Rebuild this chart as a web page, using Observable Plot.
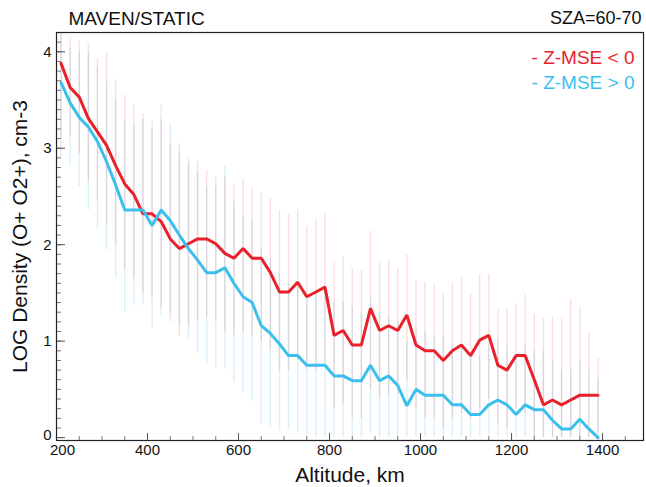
<!DOCTYPE html>
<html>
<head>
<meta charset="utf-8">
<script src="https://cdn.jsdelivr.net/npm/d3@7"></script>
<script src="https://cdn.jsdelivr.net/npm/@observablehq/plot@0.6"></script>
<style>
  html, body { margin: 0; padding: 0; background: #fff; }
  #chart { width: 646px; height: 487px; }
</style>
</head>
<body>
<div id="chart"></div>
<script>
// Altitude bins (km)
const altitude = [210,230,250,270,290,310,330,350,370,390,410,430,450,470,490,510,530,550,570,590,
  610,630,650,670,690,710,730,750,770,790,810,830,850,870,890,910,930,950,970,990,
  1010,1030,1050,1070,1090,1110,1130,1150,1170,1190,1210,1230,1250,1270,1290,1310,1330,1350,1370,1390];

// Z-MSE < 0 (red): mean log density and spread
const redMean = [3.88,3.63,3.53,3.31,3.17,3.03,2.82,2.63,2.52,2.32,2.32,2.24,2.06,1.96,2.01,2.06,2.06,2.01,1.91,1.86,
  1.96,1.86,1.86,1.71,1.51,1.51,1.61,1.46,1.51,1.56,1.06,1.11,0.96,0.96,1.34,1.11,1.16,1.11,1.27,0.96,
  0.90,0.90,0.80,0.90,0.96,0.85,1.01,1.06,0.75,0.70,0.85,0.85,0.60,0.34,0.39,0.34,0.39,0.44,0.44,0.44];
const redHi = [4.60,4.14,4.12,4.00,3.93,4.00,3.71,3.55,3.45,3.36,3.20,3.30,3.05,3.05,2.89,2.86,2.77,2.70,2.70,2.63,
  2.68,2.58,2.54,2.48,2.36,2.32,2.36,2.19,2.26,2.32,1.82,1.87,1.75,1.73,2.14,1.82,1.84,1.75,1.89,1.63,
  1.61,1.59,1.50,1.60,1.65,1.49,1.69,1.69,1.33,1.33,1.39,1.48,1.28,1.24,1.25,1.25,1.44,1.35,1.09,0.82];
const redLo = [3.10,3.12,2.94,2.65,2.45,2.20,2.00,1.75,1.65,1.50,1.45,1.35,1.20,1.05,1.15,1.20,1.25,1.20,1.10,1.05,
  1.10,1.05,1.00,0.90,0.70,0.70,0.80,0.70,0.70,0.75,0.30,0.35,0.20,0.20,0.50,0.40,0.45,0.45,0.60,0.30,
  0.20,0.20,0.10,0.20,0.25,0.20,0.30,0.40,0.15,0.10,0.30,0.25,0.00,0.00,0.00,0.00,0.00,0.00,0.00,0.05];

// Z-MSE > 0 (blue)
const blueMean = [3.68,3.47,3.32,3.22,3.07,2.86,2.62,2.36,2.36,2.36,2.20,2.36,2.25,2.10,1.96,1.84,1.71,1.71,1.76,1.60,
  1.46,1.40,1.16,1.08,0.97,0.85,0.85,0.75,0.75,0.75,0.64,0.64,0.59,0.59,0.75,0.59,0.64,0.54,0.33,0.50,
  0.44,0.44,0.44,0.34,0.34,0.24,0.24,0.34,0.39,0.34,0.24,0.34,0.29,0.29,0.18,0.09,0.09,0.19,0.09,0.00];
const blueHi = [4.30,4.05,4.00,4.09,3.85,3.70,3.50,3.30,3.25,3.30,3.29,3.45,3.26,2.95,2.85,2.75,2.60,2.60,2.81,2.45,
  2.30,2.25,1.95,1.85,1.70,1.60,1.60,1.50,1.50,1.50,1.40,1.40,1.35,1.30,1.45,1.30,1.24,1.20,1.00,1.15,
  1.10,1.05,1.05,0.95,0.95,0.85,0.85,0.95,1.00,0.95,0.85,0.95,0.90,0.90,0.80,0.70,0.70,0.80,0.70,0.60];
const blueLo = [2.90,2.82,2.60,2.36,2.15,1.94,1.65,1.30,1.37,1.37,1.13,1.27,1.28,1.16,1.01,0.87,0.76,0.71,0.71,0.57,
  0.47,0.38,0.14,0.10,0.07,0.08,0.05,0.00,0.00,0.00,0.00,0.00,0.00,0.00,0.05,0.00,0.00,0.00,0.00,0.00,
  0.00,0.00,0.00,0.00,0.00,0.00,0.00,0.00,0.00,0.00,0.00,0.00,0.00,0.00,0.00,0.00,0.00,0.00,0.00,0.00];

const xTicks = [200,400,600,800,1000,1200,1400];
const yTicks = [0,1,2,3,4];
const seriesNames = ["- Z-MSE < 0", "- Z-MSE > 0"];
const titleLeft = "MAVEN/STATIC";
const titleRight = "SZA=60-70";
const xLabel = "Altitude, km";
const yLabel = "LOG Density (O+ O2+), cm-3";

const RED = "#e8212b";
const BLUE = "#3bbfec";

const red = altitude.map((a, i) => ({alt: a, v: redMean[i], lo: redLo[i], hi: redHi[i]}));
const blue = altitude.map((a, i) => ({alt: a, v: blueMean[i], lo: blueLo[i], hi: blueHi[i]}));

const W = 646, H = 487, mL = 56, mR = 3, mT = 32, mB = 47;
const plotW = W - mL - mR, plotH = H - mT - mB;
const xMinor = d3.range(200, 1500, 50);
const yMinor = d3.range(0, 4.15, 0.1);

const chart = Plot.plot({
  width: W, height: H,
  marginLeft: mL, marginRight: mR, marginTop: mT, marginBottom: mB,
  style: {fontFamily: "'Liberation Sans', Arial, sans-serif", fontSize: "15px", color: "#111", background: "#fff"},
  x: {domain: [200, 1490]},
  y: {domain: [-0.03, 4.2]},
  marks: [
    // error bars
    Plot.ruleX(red, {x: "alt", y1: "lo", y2: "hi", stroke: RED, strokeOpacity: 0.15, strokeWidth: 1.4, clip: true}),
    Plot.ruleX(blue, {x: "alt", y1: "lo", y2: "hi", stroke: "#2aa8dc", strokeOpacity: 0.17, strokeWidth: 1.4, clip: true}),
    // mean lines
    Plot.line(red, {x: "alt", y: "v", stroke: RED, strokeWidth: 3, strokeLinejoin: "miter"}),
    Plot.line(blue, {x: "alt", y: "v", stroke: BLUE, strokeWidth: 3, strokeLinejoin: "miter"}),
    // inward ticks
    Plot.ruleX(xMinor, {x: d => d, insetTop: plotH - 4, stroke: "#777", strokeWidth: 1}),
    Plot.ruleX(xTicks, {x: d => d, insetTop: plotH - 7, stroke: "#555", strokeWidth: 1}),
    Plot.ruleY(yMinor, {y: d => d, insetRight: plotW - 5, stroke: "#777", strokeWidth: 1}),
    Plot.ruleY(yTicks, {y: d => d, insetRight: plotW - 9, stroke: "#555", strokeWidth: 1}),
    // tick labels
    Plot.axisX(xTicks.slice(1), {tickSize: 0, tickPadding: 4, tickFormat: d => String(d), label: null, fontSize: 15}),
    Plot.axisX(xTicks.slice(0, 1), {tickSize: 0, tickPadding: 4, dx: 6, tickFormat: d => String(d), label: null, fontSize: 15}),
    Plot.axisY(yTicks.slice(1), {tickSize: 0, tickPadding: 5, tickFormat: d => String(d), label: null, fontSize: 15}),
    Plot.axisY(yTicks.slice(0, 1), {tickSize: 0, tickPadding: 5, dy: -2, tickFormat: d => String(d), label: null, fontSize: 15}),
    Plot.frame({stroke: "#222", strokeWidth: 1.2}),
    // titles
    Plot.text([titleLeft], {frameAnchor: "top-left", dx: 12, dy: -14, textAnchor: "start", lineAnchor: "middle", fontSize: 19, fill: "#111"}),
    Plot.text([titleRight], {frameAnchor: "top-right", dx: -2, dy: -14, textAnchor: "end", lineAnchor: "middle", fontSize: 18, fill: "#111"}),
    Plot.text([xLabel], {frameAnchor: "bottom", dy: 35, lineAnchor: "middle", textAnchor: "middle", fontSize: 21, fill: "#111"}),
    Plot.text([yLabel], {frameAnchor: "left", dx: -36, rotate: -90, textAnchor: "middle", lineAnchor: "middle", fontSize: 21, fill: "#111"}),
    // legend
    Plot.text([seriesNames[0]], {frameAnchor: "top-right", dx: -9, dy: 25, textAnchor: "end", lineAnchor: "middle", fontSize: 19, fill: RED}),
    Plot.text([seriesNames[1]], {frameAnchor: "top-right", dx: -9, dy: 50.5, textAnchor: "end", lineAnchor: "middle", fontSize: 19, fill: BLUE})
  ]
});
document.getElementById("chart").appendChild(chart);
</script>
</body>
</html>
